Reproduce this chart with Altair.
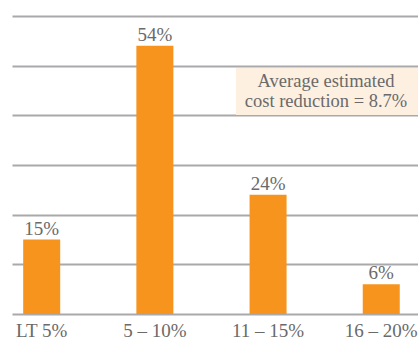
import altair as alt
import pandas as pd

# Share of respondents by estimated cost-reduction range
categories = ["LT 5%", "5 – 10%", "11 – 15%", "16 – 20%"]
shares = [15, 54, 24, 6]
share_labels = ["15%", "54%", "24%", "6%"]
note_lines = ["Average estimated", "cost reduction = 8.7%"]

df = pd.DataFrame({"range": categories, "share": shares, "label": share_labels})

FONT = "Liberation Serif"
TEXT_GREY = "#6a6a6a"
BAR_ORANGE = "#F7941D"

x_enc = alt.X(
    "range:N",
    sort=categories,
    scale=alt.Scale(paddingInner=0.673, paddingOuter=0.13, align=0.38),
    axis=alt.Axis(
        title=None, labelAngle=0, domain=False, ticks=False, grid=False,
        labelFont=FONT, labelFontSize=19, labelColor=TEXT_GREY, labelPadding=7,
    ),
)
y_enc = alt.Y(
    "share:Q",
    scale=alt.Scale(domain=[0, 60], nice=False),
    axis=alt.Axis(
        title=None, labels=False, ticks=False, domain=False,
        values=[0, 10, 20, 30, 40, 50, 60],
        grid=True, gridColor="#a9a9ac", gridWidth=2,
    ),
)

bars = alt.Chart(df).mark_bar(color=BAR_ORANGE).encode(x=x_enc, y=y_enc)

labels = alt.Chart(df).mark_text(
    font=FONT, fontSize=19, color=TEXT_GREY, baseline="alphabetic", dy=-5
).encode(x=alt.X("range:N", sort=categories), y="share:Q", text="label:N")

# Callout box with the average figure
note_box = alt.Chart(df).mark_rect(color="#fdf0e1").encode(
    x=alt.value(224), x2=alt.value(420), y=alt.value(52), y2=alt.value(99)
)
note_text = alt.Chart(pd.DataFrame({"t": [note_lines]})).mark_text(
    font=FONT, fontSize=18.5, color=TEXT_GREY, align="center",
    baseline="middle", lineHeight=20,
).encode(x=alt.value(314), y=alt.value(65), text="t")

chart = (
    alt.layer(bars, note_box, note_text, labels)
    .properties(
        width=406, height=298,
        padding={"left": 12, "top": 16, "right": 0, "bottom": 24},
        autosize=alt.AutoSizeParams(type="none"),
        background="white",
    )
    .configure_view(stroke=None)
)

chart.save("out.html", embed_options={"renderer": "svg", "actions": False})
